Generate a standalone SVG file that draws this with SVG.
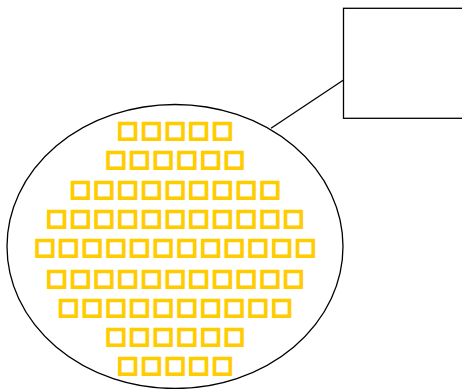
<svg xmlns="http://www.w3.org/2000/svg" width="462" height="389" viewBox="0 0 462 389">
<style>
.lbl{font-family:"DejaVu Sans",sans-serif;font-weight:bold;font-size:22px;letter-spacing:2.9px;fill:#ffcc00;stroke:#ffcc00;stroke-width:2.3;text-anchor:middle}
.shape{fill:none;stroke:#000;stroke-width:1.3}
</style>
<rect width="462" height="389" fill="#fff"/>
<g id="connectors">
<line class="shape" x1="271" y1="128.3" x2="343.5" y2="80"/>
</g>
<g id="node2">
<rect class="shape" x="343.5" y="8.3" width="130" height="110"/>
</g>
<g id="node1">
<ellipse class="shape" cx="175" cy="246.5" rx="168" ry="142"/>
<text class="lbl" x="176.5" y="137">□□□□□</text>
<text class="lbl" x="176.5" y="166">□□□□□□</text>
<text class="lbl" x="176.5" y="195.5">□□□□□□□□□</text>
<text class="lbl" x="176.5" y="225">□□□□□□□□□□□</text>
<text class="lbl" x="176.5" y="254">□□□□□□□□□□□□</text>
<text class="lbl" x="176.5" y="284.5">□□□□□□□□□□□</text>
<text class="lbl" x="176.5" y="313.5">□□□□□□□□□□</text>
<text class="lbl" x="176.5" y="343">□□□□□□</text>
<text class="lbl" x="176.5" y="372">□□□□□</text>
</g>
</svg>
